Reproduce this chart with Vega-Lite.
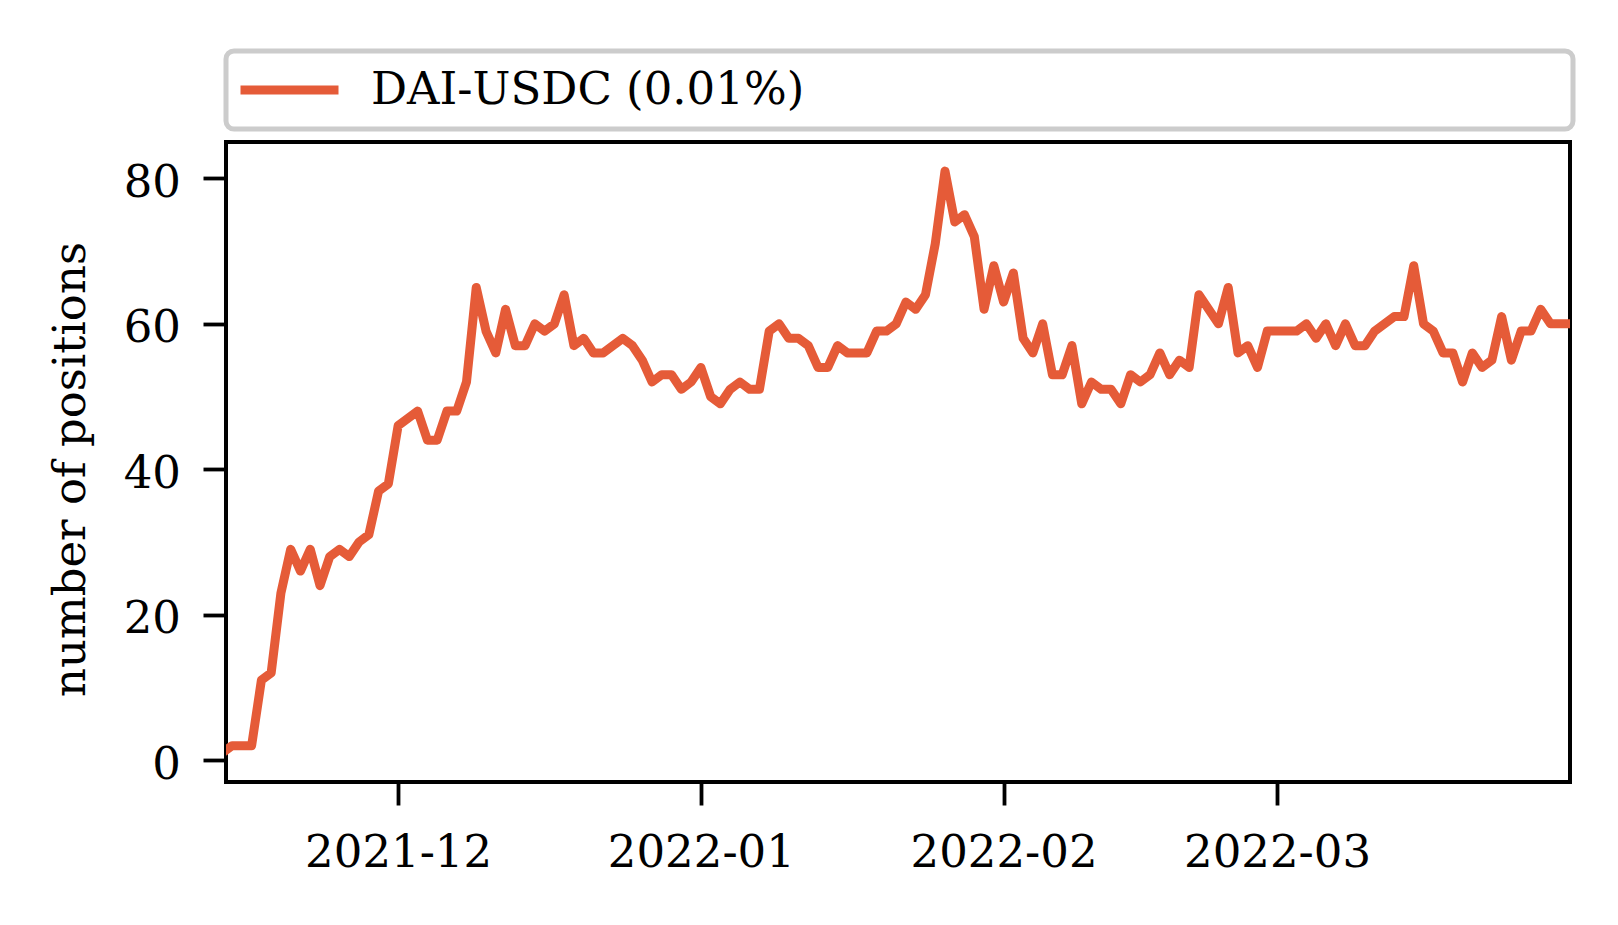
{
  "$schema": "https://vega.github.io/schema/vega-lite/v6.json",
  "width": 1344,
  "height": 640,
  "autosize": {"type": "none"},
  "padding": {"left": 226, "top": 142, "right": 48, "bottom": 143},
  "background": "white",
  "config": {
    "font": "DejaVu Serif",
    "view": {"stroke": "black", "strokeWidth": 4},
    "axis": {
      "domain": false,
      "grid": false,
      "labelFont": "DejaVu Serif",
      "labelFontSize": 45,
      "labelColor": "black",
      "labelLimit": 1000,
      "tickColor": "black",
      "tickWidth": 3.8,
      "tickSize": 23,
      "titleFont": "DejaVu Serif",
      "titleFontSize": 45,
      "titleFontWeight": "normal",
      "titleColor": "black",
      "labelOverlap": false,
      "labelFlush": false
    },
    "legend": {"strokeWidth": 5}
  },
  "data": {
    "values": [
      {"date": "2021-11-13", "n": 1}, {"date": "2021-11-14", "n": 2}, {"date": "2021-11-15", "n": 2}, {"date": "2021-11-16", "n": 2},
      {"date": "2021-11-17", "n": 11}, {"date": "2021-11-18", "n": 12}, {"date": "2021-11-19", "n": 23}, {"date": "2021-11-20", "n": 29},
      {"date": "2021-11-21", "n": 26}, {"date": "2021-11-22", "n": 29}, {"date": "2021-11-23", "n": 24}, {"date": "2021-11-24", "n": 28},
      {"date": "2021-11-25", "n": 29}, {"date": "2021-11-26", "n": 28}, {"date": "2021-11-27", "n": 30}, {"date": "2021-11-28", "n": 31},
      {"date": "2021-11-29", "n": 37}, {"date": "2021-11-30", "n": 38},
      {"date": "2021-12-01", "n": 46}, {"date": "2021-12-02", "n": 47}, {"date": "2021-12-03", "n": 48}, {"date": "2021-12-04", "n": 44},
      {"date": "2021-12-05", "n": 44}, {"date": "2021-12-06", "n": 48}, {"date": "2021-12-07", "n": 48}, {"date": "2021-12-08", "n": 52},
      {"date": "2021-12-09", "n": 65}, {"date": "2021-12-10", "n": 59}, {"date": "2021-12-11", "n": 56}, {"date": "2021-12-12", "n": 62},
      {"date": "2021-12-13", "n": 57}, {"date": "2021-12-14", "n": 57}, {"date": "2021-12-15", "n": 60}, {"date": "2021-12-16", "n": 59},
      {"date": "2021-12-17", "n": 60}, {"date": "2021-12-18", "n": 64}, {"date": "2021-12-19", "n": 57}, {"date": "2021-12-20", "n": 58},
      {"date": "2021-12-21", "n": 56}, {"date": "2021-12-22", "n": 56}, {"date": "2021-12-23", "n": 57}, {"date": "2021-12-24", "n": 58},
      {"date": "2021-12-25", "n": 57}, {"date": "2021-12-26", "n": 55}, {"date": "2021-12-27", "n": 52}, {"date": "2021-12-28", "n": 53},
      {"date": "2021-12-29", "n": 53}, {"date": "2021-12-30", "n": 51}, {"date": "2021-12-31", "n": 52},
      {"date": "2022-01-01", "n": 54}, {"date": "2022-01-02", "n": 50}, {"date": "2022-01-03", "n": 49}, {"date": "2022-01-04", "n": 51},
      {"date": "2022-01-05", "n": 52}, {"date": "2022-01-06", "n": 51}, {"date": "2022-01-07", "n": 51}, {"date": "2022-01-08", "n": 59},
      {"date": "2022-01-09", "n": 60}, {"date": "2022-01-10", "n": 58}, {"date": "2022-01-11", "n": 58}, {"date": "2022-01-12", "n": 57},
      {"date": "2022-01-13", "n": 54}, {"date": "2022-01-14", "n": 54}, {"date": "2022-01-15", "n": 57}, {"date": "2022-01-16", "n": 56},
      {"date": "2022-01-17", "n": 56}, {"date": "2022-01-18", "n": 56}, {"date": "2022-01-19", "n": 59}, {"date": "2022-01-20", "n": 59},
      {"date": "2022-01-21", "n": 60}, {"date": "2022-01-22", "n": 63}, {"date": "2022-01-23", "n": 62}, {"date": "2022-01-24", "n": 64},
      {"date": "2022-01-25", "n": 71}, {"date": "2022-01-26", "n": 81}, {"date": "2022-01-27", "n": 74}, {"date": "2022-01-28", "n": 75},
      {"date": "2022-01-29", "n": 72}, {"date": "2022-01-30", "n": 62}, {"date": "2022-01-31", "n": 68},
      {"date": "2022-02-01", "n": 63}, {"date": "2022-02-02", "n": 67}, {"date": "2022-02-03", "n": 58}, {"date": "2022-02-04", "n": 56},
      {"date": "2022-02-05", "n": 60}, {"date": "2022-02-06", "n": 53}, {"date": "2022-02-07", "n": 53}, {"date": "2022-02-08", "n": 57},
      {"date": "2022-02-09", "n": 49}, {"date": "2022-02-10", "n": 52}, {"date": "2022-02-11", "n": 51}, {"date": "2022-02-12", "n": 51},
      {"date": "2022-02-13", "n": 49}, {"date": "2022-02-14", "n": 53}, {"date": "2022-02-15", "n": 52}, {"date": "2022-02-16", "n": 53},
      {"date": "2022-02-17", "n": 56}, {"date": "2022-02-18", "n": 53}, {"date": "2022-02-19", "n": 55}, {"date": "2022-02-20", "n": 54},
      {"date": "2022-02-21", "n": 64}, {"date": "2022-02-22", "n": 62}, {"date": "2022-02-23", "n": 60}, {"date": "2022-02-24", "n": 65},
      {"date": "2022-02-25", "n": 56}, {"date": "2022-02-26", "n": 57}, {"date": "2022-02-27", "n": 54}, {"date": "2022-02-28", "n": 59},
      {"date": "2022-03-01", "n": 59}, {"date": "2022-03-02", "n": 59}, {"date": "2022-03-03", "n": 59}, {"date": "2022-03-04", "n": 60},
      {"date": "2022-03-05", "n": 58}, {"date": "2022-03-06", "n": 60}, {"date": "2022-03-07", "n": 57}, {"date": "2022-03-08", "n": 60},
      {"date": "2022-03-09", "n": 57}, {"date": "2022-03-10", "n": 57}, {"date": "2022-03-11", "n": 59}, {"date": "2022-03-12", "n": 60},
      {"date": "2022-03-13", "n": 61}, {"date": "2022-03-14", "n": 61}, {"date": "2022-03-15", "n": 68}, {"date": "2022-03-16", "n": 60},
      {"date": "2022-03-17", "n": 59}, {"date": "2022-03-18", "n": 56}, {"date": "2022-03-19", "n": 56}, {"date": "2022-03-20", "n": 52},
      {"date": "2022-03-21", "n": 56}, {"date": "2022-03-22", "n": 54}, {"date": "2022-03-23", "n": 55}, {"date": "2022-03-24", "n": 61},
      {"date": "2022-03-25", "n": 55}, {"date": "2022-03-26", "n": 59}, {"date": "2022-03-27", "n": 59}, {"date": "2022-03-28", "n": 62},
      {"date": "2022-03-29", "n": 60}, {"date": "2022-03-30", "n": 60}, {"date": "2022-03-31", "n": 60}
    ]
  },
  "mark": {"type": "line", "strokeWidth": 9, "strokeJoin": "round", "strokeCap": "butt", "clip": true},
  "encoding": {
    "x": {
      "field": "date",
      "type": "temporal",
      "scale": {
        "type": "utc",
        "nice": false,
        "domain": [
          {"year": 2021, "month": 11, "date": 13, "hours": 9, "utc": true},
          {"year": 2022, "month": 3, "date": 31, "utc": true}
        ]
      },
      "axis": {
        "title": null,
        "format": "%Y-%m",
        "labelPadding": 25,
        "values": [
          {"year": 2021, "month": 12, "date": 1, "utc": true},
          {"year": 2022, "month": 1, "date": 1, "utc": true},
          {"year": 2022, "month": 2, "date": 1, "utc": true},
          {"year": 2022, "month": 3, "date": 1, "utc": true}
        ]
      }
    },
    "y": {
      "field": "n",
      "type": "quantitative",
      "scale": {"domain": [-3, 85], "nice": false, "zero": false},
      "axis": {
        "title": "number of positions",
        "values": [0, 20, 40, 60, 80],
        "labelPadding": 22.5,
        "labelOffset": 4,
        "titlePadding": 30,
        "titleY": 327
      }
    },
    "color": {
      "datum": "DAI-USDC (0.01%)",
      "type": "nominal",
      "scale": {"range": ["#e55b38"]},
      "legend": {
        "title": null,
        "orient": "top",
        "offset": 13,
        "padding": 10,
        "clipHeight": 58,
        "labelOffset": 28,
        "labelFont": "DejaVu Serif",
        "labelFontSize": 45,
        "labelColor": "black",
        "labelLimit": 5000,
        "symbolType": "stroke",
        "symbolSize": 9604,
        "symbolStrokeWidth": 9,
        "strokeColor": "#cccccc",
        "cornerRadius": 8,
        "labelExpr": "datum.label + '\u00a0\u00a0\u00a0\u00a0\u00a0\u00a0\u00a0\u00a0\u00a0\u00a0\u00a0\u00a0\u00a0\u00a0\u00a0\u00a0\u00a0\u00a0\u00a0\u00a0\u00a0\u00a0\u00a0\u00a0\u00a0\u00a0\u00a0\u00a0\u00a0\u00a0\u00a0\u00a0\u00a0\u00a0\u00a0\u00a0\u00a0\u00a0\u00a0\u00a0\u00a0\u00a0\u00a0\u00a0\u00a0\u00a0\u00a0\u00a0\u00a0\u00a0\u00a0\u00a0\u00a0\u200b'",
        "encode": {"legend": {"update": {"strokeWidth": {"value": 5}}}}
      }
    }
  }
}
